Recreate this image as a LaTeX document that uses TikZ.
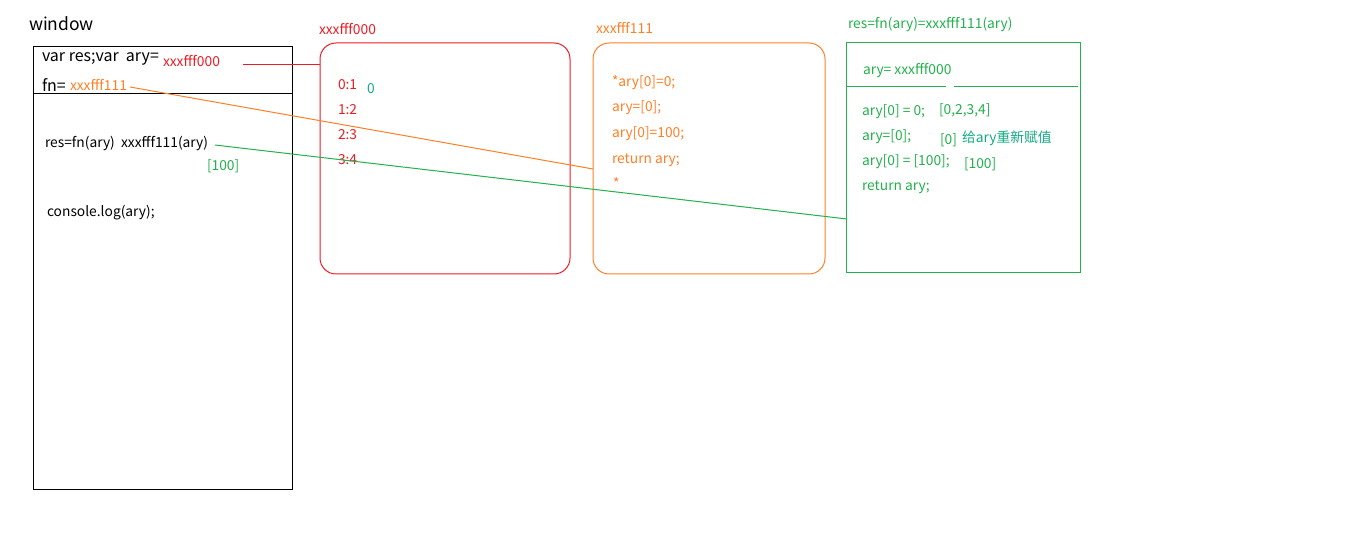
\documentclass[tikz,border=0pt]{standalone}
\usepackage{fontspec}
\setmainfont{Noto Sans CJK SC}
\definecolor{memred}{RGB}{237,28,36}
\definecolor{memorange}{RGB}{255,127,39}
\definecolor{memgreen}{RGB}{34,177,76}
\definecolor{memteal}{RGB}{20,170,130}
\tikzset{
  code/.style={font=\fontsize{13.8}{15}\selectfont},
  big/.style={font=\fontsize{16}{18}\selectfont},
}
\begin{document}
\begin{tikzpicture}[x=1pt, y=-1pt, every node/.style={anchor=west, inner sep=0pt, outer sep=0pt}, line width=1pt, line join=miter]
	\useasboundingbox (0, 0) rectangle (1360, 553);

	% window
	\node[font=\fontsize{17.5}{19}\selectfont] (wintitle) at (29, 24) {window};
	\draw (33, 47) rectangle (292, 489);
	\draw (33, 94) -- (292, 94);
	\node[big] (varres) at (42, 59) {var res;var~~ary=};
	\node[code, text=memred] (aryaddr) at (163, 61) {xxxfff000};
	\node[big] (fneq) at (42, 85) {fn=};
	\node[code, text=memorange] (fnaddr) at (70, 85) {xxxfff111};
	\node[code] (rescall) at (45, 143) {res=fn(ary)~~xxxfff111(ary)};
	\node[code, text=memgreen] (resval) at (207, 166) {[100]};
	\node[code] (conlog) at (47, 213) {console.log(ary);};

	% heap xxxfff000
	\node[code, text=memred] (objlabel) at (319, 29) {xxxfff000};
	\draw[memred, rounded corners=16pt] (320, 43) rectangle (570, 274);
	\node[code, text=memred] (item0) at (338, 85) {0:1};
	\node[code, text=memteal] (item0new) at (367, 89) {0};
	\node[code, text=memred] (item1) at (338, 110) {1:2};
	\node[code, text=memred] (item2) at (338, 135) {2:3};
	\node[code, text=memred] (item3) at (338, 160) {3:4};

	% heap xxxfff111
	\node[code, text=memorange] (fnlabel) at (596, 28) {xxxfff111};
	\draw[memorange, rounded corners=16pt] (593, 43) rectangle (825, 274);
	\node[code, text=memorange] (fnline0) at (612, 83) {*ary[0]=0;};
	\node[code, text=memorange] (fnline1) at (612, 108) {ary=[0];};
	\node[code, text=memorange] (fnline2) at (612, 134) {ary[0]=100;};
	\node[code, text=memorange] (fnline3) at (612, 160) {return ary;};
	\node[code, text=memorange] (fnline4) at (613, 183) {*};

	% execution scope
	\node[code, text=memgreen] (scopelabel) at (848, 24) {res=fn(ary)=xxxfff111(ary)};
	\draw[memgreen] (846, 43) rectangle (1080, 273);
	\draw[memgreen] (846, 87) -- (946, 87);
	\draw[memgreen] (954, 87) -- (1078, 87);
	\node[code, text=memgreen] (param) at (863, 71) {ary=~xxxfff000};
	\node[code, text=memgreen] (step0) at (862, 112) {ary[0]~=~0;};
	\node[code, text=memgreen] (val0) at (939, 110) {[0,2,3,4]};
	\node[code, text=memgreen] (step1) at (862, 137) {ary=[0];};
	\node[code, text=memgreen] (val1) at (940, 140) {[0]};
	\node[code, text=memteal] (note1) at (962, 138) {给ary重新赋值};
	\node[code, text=memgreen] (step2) at (862, 162) {ary[0]~=~[100];};
	\node[code, text=memgreen] (val2) at (964, 164) {[100]};
	\node[code, text=memgreen] (step3) at (862, 187) {return ary;};

	% references
	\coordinate (aryend) at (243, 65);
	\coordinate (objin) at (320, 65);
	\coordinate (fnstart) at (130, 87);
	\coordinate (fnin) at (593, 169);
	\coordinate (callend) at (215, 145);
	\coordinate (scopein) at (847, 219);
	\draw[memred] (aryend) -- (objin);
	\draw[memorange] (fnstart) -- (fnin);
	\draw[memgreen] (callend) -- (scopein);
\end{tikzpicture}
\end{document}
